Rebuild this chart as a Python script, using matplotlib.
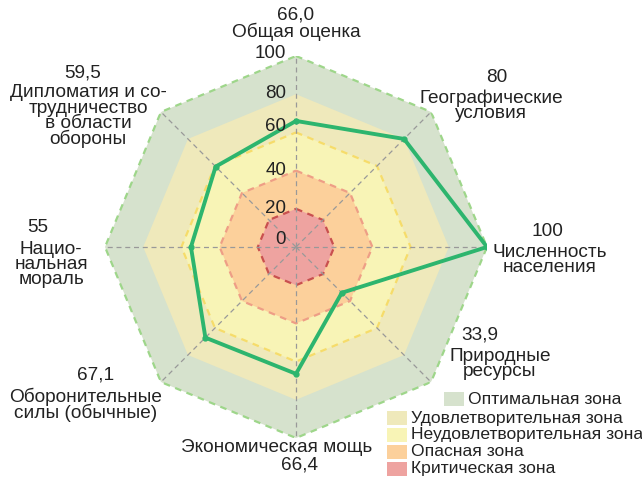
import numpy as np
import matplotlib
matplotlib.use('Agg')
import matplotlib.pyplot as plt
from matplotlib.patches import Rectangle

plt.rcParams['font.family'] = ['Liberation Sans', 'DejaVu Sans']

# данные
categories = ['Общая оценка', 'Географические\nусловия', 'Численность\nнаселения',
              'Природные\nресурсы', 'Экономическая мощь', 'Оборонительные\nсилы (обычные)',
              'Нацио-\nнальная\nмораль', 'Дипломатия и со-\nтрудничество\nв области\nобороны']
values = [66.0, 80, 100, 33.9, 66.4, 67.1, 55, 59.5]
value_labels = ['66,0', '80', '100', '33,9', '66,4', '67,1', '55', '59,5']
zone_levels = [100, 80, 60, 40, 20]
zone_names = ['Оптимальная зона', 'Удовлетворительная зона', 'Неудовлетворительная зона',
              'Опасная зона', 'Критическая зона']
ticks = [0, 20, 40, 60, 80, 100]

zone_fill = ['#d6e2cd', '#efe9bb', '#f8f4b6', '#fcd09b', '#eea3a0']
zone_edge = ['#9ed68a', 'none', '#f6dc6a', '#ee9e86', '#c9504f']
line_color = '#2db56e'
txt_color = '#222222'

W, H = 642, 478
fig = plt.figure(figsize=(W / 100, H / 100), dpi=100)


def px(x, y):
    return x / W, 1 - y / H


cx, cy, R = 296, 247, 191
ax = fig.add_axes([(cx - R) / W, (H - cy - R) / H, 2 * R / W, 2 * R / H], projection='polar')
ax.set_theta_zero_location('N')
ax.set_theta_direction(-1)
ax.set_ylim(0, 100)
ax.axis('off')

n = len(categories)
theta = np.linspace(0, 2 * np.pi, n, endpoint=False)
theta_c = np.append(theta, theta[0])

# зоны
for lvl, fc, ec in zip(zone_levels, zone_fill, zone_edge):
    r = np.full(n + 1, lvl)
    ax.fill(theta_c, r, color=fc, zorder=1, lw=0)
    if ec != 'none':
        ax.plot(theta_c, r, color=ec, lw=1.6, ls=(0, (3, 2.5)), zorder=2)

# оси
for t in theta:
    ax.plot([t, t], [0, 100], color='#999999', lw=0.9, ls=(0, (4, 3)), zorder=3)

# линия данных
v = np.append(values, values[0])
ax.plot(theta_c, v, color=line_color, lw=2.8, zorder=4, solid_joinstyle='miter')
ax.plot(theta, values, 'o', color=line_color, ms=3.5, zorder=5)

# подписи шкалы
tick_dy = {0: 8, 20: 0, 40: 0, 60: 6, 80: 1, 100: 3}
for t in ticks:
    fig.text(*px(cx - 10, cy - t * R / 100 - tick_dy[t]), str(t), ha='right', va='center',
             fontsize=13.5, color=txt_color)

# подписи категорий (пиксели: центр значения, центр первой строки названия)
fs = 13.7
step = 15.5
val_xy = [(296, 15), (497, 77), (547, 232), (480, 335), (300, 465), (96, 375), (38, 228), (83, 73)]
lab_xy = [(296, 32), (491, 98), (550, 252), (500, 356), (277, 447), (86, 397), (51, 249), (88, 93)]
for i in range(n):
    fig.text(*px(*val_xy[i]), value_labels[i], ha='center', va='center', fontsize=fs,
             color=txt_color)
    nl = categories[i].count('\n')
    x, y = lab_xy[i]
    fig.text(*px(x, y + nl * step / 2), categories[i], ha='center', va='center', fontsize=fs,
             color=txt_color, linespacing=0.86, multialignment='center')

# легенда
leg_rows = [(444, 399)] + [(387, yy) for yy in (418, 435, 452, 469)]
for (x, y), c, nm in zip(leg_rows, zone_fill, zone_names):
    fig.patches.append(Rectangle(px(x, y + 7), 20 / W, 14 / H, facecolor=c, edgecolor='none',
                                 transform=fig.transFigure, figure=fig))
    fig.text(*px(x + 24, y), nm, ha='left', va='center', fontsize=12.6, color=txt_color)

fig.savefig('out.png', dpi=100, facecolor='white')
